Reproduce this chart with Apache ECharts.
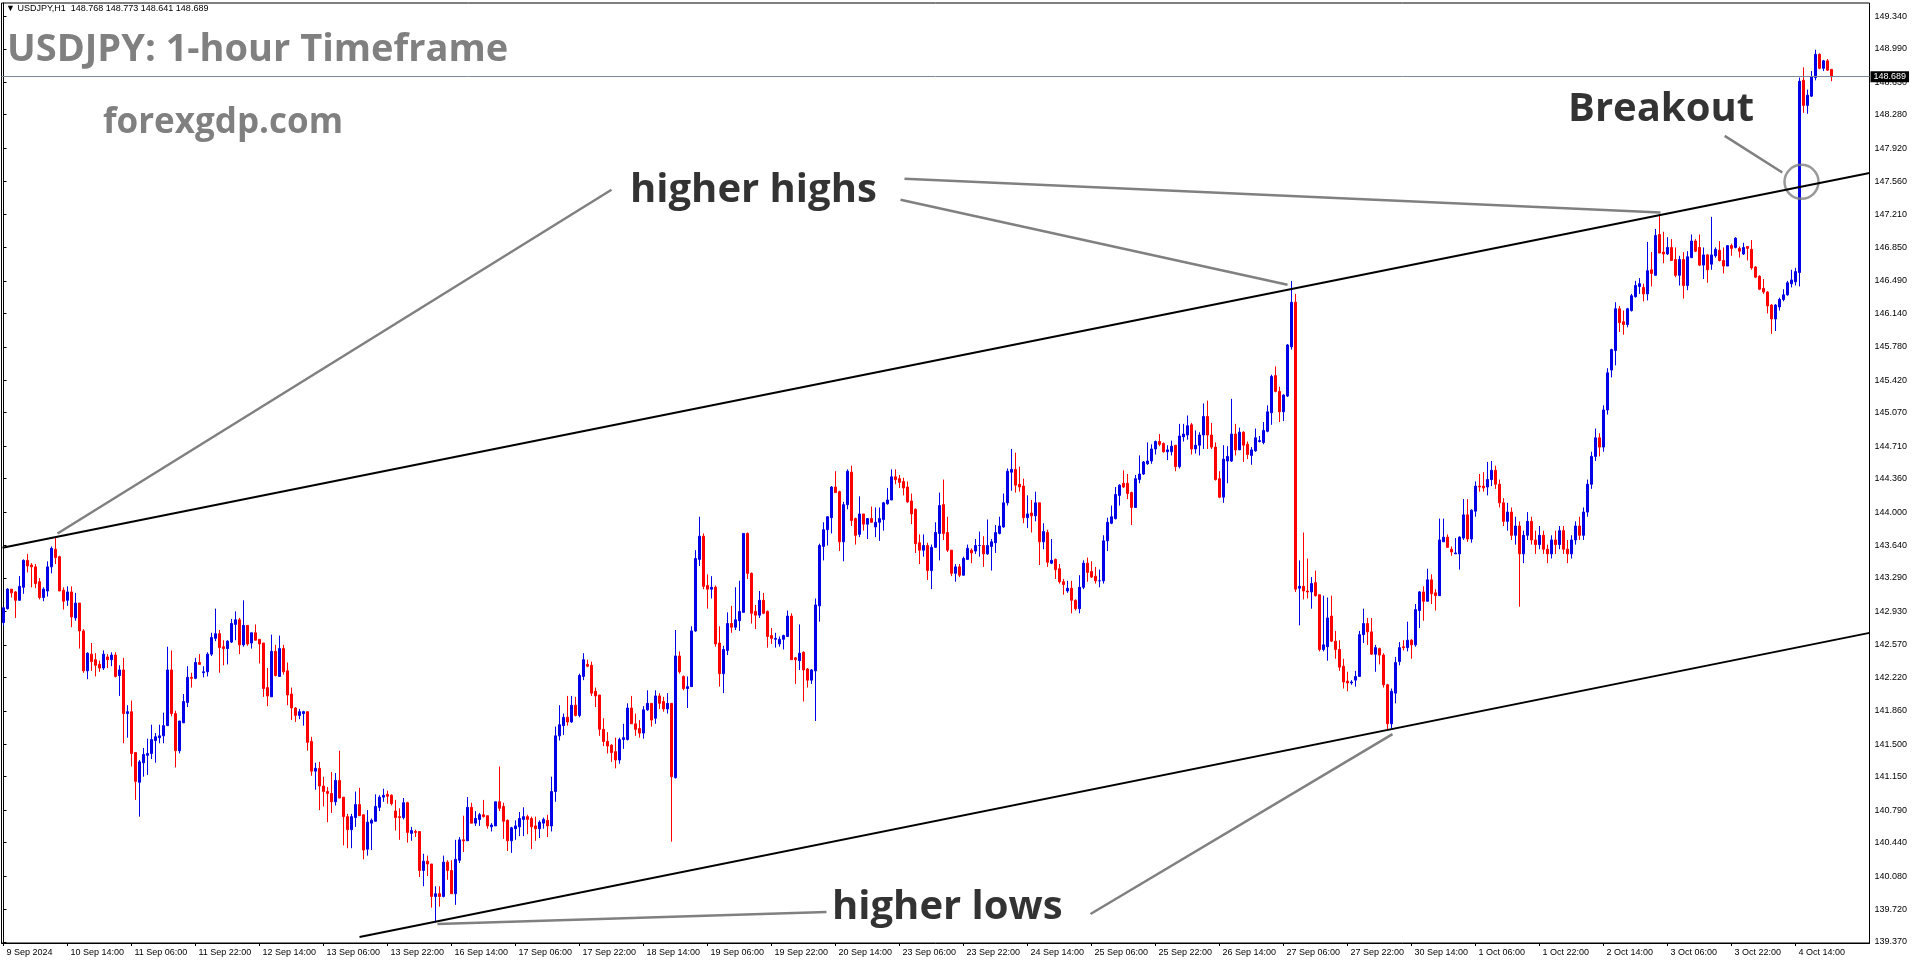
<!DOCTYPE html>
<html><head><meta charset="utf-8">
<script src="https://cdn.jsdelivr.net/npm/echarts@6/dist/echarts.min.js"></script>
<style>html,body{margin:0;padding:0;background:#fff;overflow:hidden}#c{width:1916px;height:964px}</style>
</head><body><div id="c"></div>
<script>
// OHLC rows: [open, close, low, high], one hourly bar each, 9 Sep 22:00 .. 4 Oct 23:00
const week1 = [
[142.81,142.97,142.78,142.98],[142.96,143.17,142.95,143.18],[143.17,143.13,143.08,143.17],[143.14,143.05,142.86,143.15],
[143.05,143.20,143.05,143.31],[143.19,143.48,143.12,143.49],[143.48,143.42,143.35,143.55],[143.43,143.41,143.19,143.45],
[143.41,143.23,143.18,143.44],[143.25,143.08,143.06,143.29],[143.08,143.17,143.04,143.19],[143.15,143.41,143.09,143.47],
[143.41,143.61,143.34,143.63],[143.60,143.51,143.44,143.73],[143.52,143.15,143.15,143.53],[143.16,143.04,142.95,143.19],
[143.05,143.14,142.99,143.20],[143.14,142.87,142.76,143.20],[142.86,143.02,142.83,143.13],[143.02,142.72,142.53,143.02],
[142.72,142.29,142.27,142.74],[142.29,142.48,142.20,142.49],[142.47,142.39,142.29,142.59],[142.41,142.35,142.23,142.48],
[142.36,142.32,142.28,142.40],[142.32,142.47,142.30,142.51],[142.44,142.41,142.32,142.47],[142.41,142.46,142.34,142.49],
[142.46,142.23,142.22,142.49],[142.24,142.30,142.02,142.35],[142.30,141.83,141.51,142.43],[141.83,141.85,141.57,141.92],
[141.85,141.40,141.26,141.97],[141.41,141.10,140.90,141.41],[141.09,141.31,140.72,141.33],[141.30,141.39,141.15,141.46],
[141.38,141.40,141.17,141.56],[141.40,141.55,141.34,141.71],[141.54,141.58,141.30,141.62],[141.57,141.59,141.51,141.71],
[141.59,141.70,141.51,141.84],[141.70,142.30,141.70,142.55],[142.30,141.83,141.80,142.51],[141.83,141.43,141.25,141.86],
[141.43,141.75,141.40,141.75],[141.73,141.96,141.73,142.04],[141.95,142.22,141.90,142.34],[142.22,142.21,142.11,142.27],
[142.21,142.38,142.20,142.43],[142.38,142.36,142.36,142.47],[142.27,142.28,142.22,142.34],[142.28,142.47,142.23,142.49],
[142.47,142.65,142.45,142.70],[142.64,142.69,142.61,142.96],[142.69,142.54,142.27,142.73],[142.55,142.53,142.35,142.62],
[142.53,142.61,142.36,142.62],[142.60,142.80,142.59,142.85],[142.79,142.84,142.62,142.93],[142.84,142.57,142.47,142.86],
[142.57,142.78,142.55,143.05],[142.78,142.58,142.56,142.78],[142.59,142.70,142.53,142.70],[142.70,142.62,142.62,142.79],
[142.63,142.58,142.37,142.63],[142.59,142.10,142.01,142.59],[142.11,142.02,141.91,142.32],[142.01,142.50,142.01,142.68],
[142.50,142.24,142.23,142.57],[142.23,142.53,142.23,142.67],[142.53,142.28,142.25,142.57],[142.29,142.03,141.92,142.38],
[142.04,141.89,141.76,142.11],[141.89,141.81,141.74,141.90],[141.81,141.85,141.77,141.88],[141.83,141.85,141.70,141.86],
[141.85,141.52,141.43,141.85],[141.53,141.21,141.16,141.58],[141.21,141.24,141.01,141.30],[141.24,141.05,140.79,141.31],
[141.05,140.99,140.83,141.15],[140.99,140.97,140.66,141.04],[140.97,140.88,140.76,141.20],[140.88,141.11,140.84,141.19],
[141.11,140.92,140.92,141.43],[140.93,140.72,140.41,140.93],[140.72,140.58,140.38,140.75],[140.58,140.72,140.38,140.75],
[140.71,140.85,140.61,140.99],[140.85,140.73,140.73,141.03],[140.74,140.36,140.26,140.74],[140.37,140.66,140.30,140.79],
[140.65,140.68,140.36,140.70],[140.67,140.83,140.67,140.96],[140.82,140.93,140.78,140.95],[140.93,140.95,140.88,141.02],
[140.96,140.94,140.86,141.00],[140.95,140.86,140.84,140.96]
];
const week2 = [
[140.78,140.71,140.57,140.90],[140.72,140.71,140.47,140.81],[140.71,140.87,140.69,140.92],[140.87,140.55,140.44,140.88],
[140.54,140.57,140.46,140.61],[140.56,140.55,140.50,140.58],[140.56,140.14,140.07,140.56],[140.14,140.24,139.97,140.32],
[140.24,140.21,140.08,140.30],[140.21,139.86,139.74,140.21],[139.86,139.89,139.58,139.97],[139.89,139.86,139.75,139.97],
[139.86,140.23,139.85,140.30],[140.23,140.14,140.04,140.25],[140.14,139.89,139.89,140.25],[139.89,140.26,139.77,140.47],
[140.25,140.47,140.22,140.50],[140.47,140.46,140.34,140.73],[140.46,140.82,140.46,140.93],[140.82,140.65,140.65,140.87],
[140.65,140.70,140.62,140.78],[140.69,140.74,140.62,140.76],[140.74,140.72,140.71,140.90],[140.73,140.62,140.59,140.73],
[140.61,140.63,140.56,140.65],[140.62,140.88,140.62,140.88],[140.88,140.81,140.78,141.26],[140.83,140.67,140.48,140.87],
[140.68,140.46,140.35,140.69],[140.46,140.60,140.33,140.61],[140.59,140.62,140.47,140.68],[140.61,140.70,140.51,140.77],
[140.69,140.72,140.51,140.82],[140.72,140.69,140.53,140.74],[140.70,140.61,140.37,140.72],[140.62,140.59,140.46,140.72],
[140.59,140.66,140.49,140.68],[140.65,140.69,140.59,140.71],[140.68,140.62,140.50,140.74],[140.62,140.99,140.56,141.15],
[140.99,141.59,140.88,141.69],[141.59,141.71,141.54,141.92],[141.70,141.79,141.60,141.83],[141.79,141.74,141.70,142.02],
[141.74,141.92,141.73,142.02],[141.92,141.81,141.80,142.01],[141.81,142.24,141.79,142.26],[142.23,142.41,142.19,142.48],
[142.36,142.34,142.33,142.41],[142.35,142.05,142.02,142.39],[142.07,142.02,141.90,142.11],[142.03,141.66,141.59,142.03],
[141.66,141.53,141.48,141.78],[141.53,141.48,141.40,141.63],[141.49,141.41,141.31,141.50],[141.42,141.33,141.24,141.57],
[141.33,141.55,141.29,141.57],[141.55,141.57,141.45,141.72],[141.55,141.89,141.54,141.94],[141.89,141.72,141.72,142.02],
[141.72,141.66,141.59,141.83],[141.67,141.62,141.57,141.76],[141.62,141.87,141.56,141.91],[141.87,141.94,141.86,142.08],
[141.94,141.76,141.69,141.94],[141.78,142.02,141.72,142.08],[142.02,141.94,141.88,142.05],[141.96,141.88,141.85,142.01],
[141.88,141.94,141.83,142.05],[141.94,141.15,140.45,141.94],[141.14,142.45,141.13,142.73],[142.45,142.28,142.26,142.50],
[142.23,142.10,142.08,142.24],[142.10,142.12,141.89,142.23],[142.12,142.72,142.12,142.77],[142.72,143.50,142.71,143.59],
[143.49,143.74,143.42,143.95],[143.74,143.20,143.17,143.77],[143.21,143.17,142.96,143.33],[143.17,143.19,143.07,143.31],
[143.19,142.58,142.55,143.21],[142.59,142.26,142.12,142.77],[142.26,142.52,142.05,142.56],[142.51,142.80,142.46,142.92],
[142.80,142.76,142.70,142.99],[142.76,142.84,142.73,143.19],[142.83,142.93,142.72,143.26],[142.92,143.77,142.92,143.77],
[143.77,143.34,143.28,143.78],[143.34,142.91,142.80,143.35],[142.93,142.89,142.74,143.00],[142.89,143.05,142.86,143.15],
[143.05,142.91,142.90,143.13],[142.93,142.66,142.54,142.94],[142.67,142.64,142.58,142.75],[142.63,142.64,142.54,142.70],
[142.58,142.63,142.55,142.66],[142.63,142.67,142.52,142.68],[142.66,142.88,142.66,142.94],[142.88,142.41,142.41,142.91],
[142.43,142.41,142.15,142.44],[142.40,142.48,142.30,142.79],[142.49,142.30,141.96,142.50],[142.31,142.19,142.11,142.32],
[142.19,142.30,142.15,142.31],[142.29,143.00,141.75,143.07],[142.99,143.64,142.82,143.66],[143.63,143.81,143.48,143.89],
[143.81,143.95,143.64,143.95],[143.94,144.27,143.77,144.28],[144.27,144.21,144.21,144.44],[144.22,143.68,143.58,144.23],
[143.68,144.08,143.47,144.11],[144.08,144.44,144.03,144.46],[144.43,143.91,143.85,144.50],[143.93,143.75,143.65,143.94],
[143.76,143.98,143.73,144.17],[143.98,143.87,143.80,143.98],[143.87,143.93,143.71,143.93],[143.93,143.89,143.89,144.06]
];
const week3 = [
[143.84,143.89,143.73,144.05],[143.89,143.93,143.69,144.05],[143.92,144.10,143.80,144.11],[144.09,144.13,144.08,144.26],
[144.13,144.38,144.13,144.46],[144.38,144.35,144.30,144.46],[144.36,144.32,144.26,144.40],[144.33,144.26,144.18,144.37],
[144.27,144.11,144.10,144.33],[144.12,143.98,143.87,144.20],[144.03,143.66,143.56,144.04],[143.67,143.59,143.44,143.76],
[143.59,143.64,143.52,143.76],[143.64,143.37,143.27,143.67],[143.37,143.62,143.17,143.65],[143.62,143.78,143.62,143.89],
[143.77,144.07,143.48,144.21],[144.08,143.77,143.70,144.35],[143.78,143.59,143.57,143.95],[143.59,143.34,143.31,143.59],
[143.34,143.41,143.25,143.44],[143.41,143.32,143.30,143.44],[143.32,143.50,143.32,143.52],[143.49,143.61,143.49,143.65],
[143.59,143.56,143.45,143.61],[143.58,143.64,143.55,143.71],[143.64,143.64,143.52,143.79],[143.64,143.55,143.41,143.74],
[143.55,143.64,143.54,143.92],[143.63,143.68,143.37,143.71],[143.67,143.78,143.56,143.86],[143.77,143.85,143.76,143.95],
[143.84,144.10,143.83,144.20],[144.10,144.44,144.07,144.47],[144.43,144.46,144.23,144.68],[144.46,144.29,144.21,144.64],
[144.30,144.27,144.22,144.49],[144.28,143.94,143.88,144.36],[143.94,143.98,143.83,144.18],[143.99,143.96,143.78,144.13],
[143.96,144.10,143.90,144.22],[144.10,143.68,143.43,144.10],[143.68,143.79,143.60,143.88],[143.78,143.46,143.41,143.81],
[143.45,143.48,143.44,143.71],[143.49,143.38,143.28,143.50],[143.39,143.25,143.23,143.44],[143.25,143.22,143.11,143.28],
[143.15,143.18,143.13,143.26],[143.18,143.05,142.91,143.26],[143.05,142.96,142.94,143.06],[142.96,143.19,142.91,143.32],
[143.19,143.45,143.17,143.48],[143.45,143.35,143.25,143.51],[143.36,143.30,143.29,143.47],[143.31,143.26,143.23,143.41],
[143.26,143.26,143.19,143.38],[143.26,143.69,143.23,143.75],[143.69,143.89,143.58,143.94],[143.88,143.95,143.87,144.07],
[143.93,144.19,143.92,144.27],[144.18,144.29,144.07,144.30],[144.31,144.27,144.26,144.45],[144.31,144.20,144.14,144.41],
[144.21,144.05,143.86,144.22],[144.05,144.36,144.05,144.40],[144.35,144.41,144.31,144.61],[144.41,144.54,144.40,144.55],
[144.52,144.55,144.51,144.75],[144.55,144.68,144.52,144.73],[144.68,144.76,144.62,144.77],[144.76,144.73,144.71,144.84],
[144.74,144.65,144.64,144.75],[144.65,144.67,144.56,144.72],[144.65,144.71,144.61,144.77],[144.72,144.49,144.44,144.72],
[144.49,144.82,144.47,144.95],[144.81,144.84,144.76,144.95],[144.83,144.93,144.78,145.04],[144.94,144.68,144.62,144.96],
[144.68,144.72,144.63,144.88],[144.72,144.83,144.61,144.86],[144.83,145.03,144.68,145.17],[145.03,144.83,144.68,145.20],
[144.83,144.70,144.68,144.96],[144.70,144.35,144.34,144.75],[144.36,144.16,144.15,144.44],[144.16,144.57,144.10,144.72],
[144.55,144.60,144.31,144.71],[144.55,144.84,144.54,145.22],[144.84,144.67,144.61,144.95],[144.67,144.86,144.67,144.91],
[144.86,144.72,144.54,144.87],[144.73,144.62,144.57,144.76],[144.61,144.67,144.51,144.70],[144.66,144.80,144.65,144.90],
[144.76,144.77,144.75,144.82],[144.75,144.88,144.73,144.97],[144.87,145.08,144.86,145.15],[145.07,145.46,144.94,145.48],
[145.47,145.30,145.29,145.57],[145.30,145.08,144.97,145.35],[145.08,145.26,144.98,145.27],[145.25,145.80,145.24,145.81],
[145.78,146.26,145.75,146.49],[146.26,143.17,143.14,146.35],[143.18,143.20,142.78,143.48],[143.20,143.15,143.06,143.78],
[143.15,143.14,143.07,143.50],[143.14,143.23,142.96,143.30],[143.24,143.10,143.09,143.37],[143.11,142.52,142.50,143.11],
[142.52,142.57,142.50,143.10],[142.55,142.86,142.40,143.08],[142.88,142.61,142.60,143.10],[142.61,142.52,142.42,142.72],
[142.52,142.33,142.29,142.62],[142.34,142.17,142.10,142.42],[142.18,142.16,142.07,142.28],[142.16,142.17,142.14,142.19]
];
const week4 = [
[142.19,142.23,142.12,142.29],[142.23,142.68,142.23,142.72],[142.68,142.80,142.59,142.96],[142.80,142.71,142.57,142.86],
[142.71,142.47,142.46,142.86],[142.47,142.54,142.28,142.57],[142.53,142.46,142.36,142.54],[142.46,142.14,142.11,142.48],
[142.14,141.72,141.66,142.15],[141.72,142.07,141.67,142.10],[142.05,142.38,141.94,142.44],[142.39,142.54,142.35,142.60],
[142.55,142.54,142.51,142.62],[142.54,142.62,142.50,142.82],[142.62,142.57,142.42,142.63],[142.57,142.95,142.55,143.01],
[142.94,143.14,142.75,143.15],[143.14,143.04,142.83,143.20],[143.04,143.27,143.04,143.39],[143.27,143.12,143.01,143.33],
[143.13,143.10,142.94,143.17],[143.10,143.70,143.10,143.93],[143.68,143.73,143.68,143.93],[143.73,143.62,143.62,143.76],
[143.60,143.57,143.53,143.63],[143.55,143.56,143.55,143.72],[143.55,143.73,143.38,143.74],[143.72,143.97,143.70,144.14],
[143.97,143.71,143.68,144.14],[143.71,144.02,143.67,144.03],[144.01,144.28,143.95,144.33],[144.28,144.27,144.22,144.41],
[144.28,144.26,144.22,144.43],[144.27,144.35,144.18,144.54],[144.35,144.45,144.28,144.55],[144.45,144.30,144.25,144.50],
[144.30,144.10,144.05,144.35],[144.10,143.90,143.85,144.15],[143.90,144.00,143.80,144.10],[144.00,143.75,143.70,144.05],
[143.75,143.85,143.65,143.95],[143.85,143.55,142.98,143.90],[143.55,143.75,143.45,143.80],[143.75,143.90,143.70,144.00],
[143.90,143.70,143.65,143.95],[143.70,143.65,143.55,143.80],[143.65,143.75,143.60,143.85],[143.75,143.60,143.55,143.80],
[143.60,143.55,143.45,143.65],[143.55,143.70,143.50,143.75],[143.70,143.65,143.55,143.80],[143.65,143.80,143.60,143.85],
[143.80,143.60,143.55,143.85],[143.60,143.55,143.45,143.70],[143.55,143.70,143.50,143.75],[143.70,143.85,143.65,143.90],
[143.85,143.75,143.70,143.95],[143.75,144.00,143.70,144.05],[144.00,144.30,143.95,144.35],[144.30,144.60,144.25,144.65],
[144.60,144.80,144.55,144.90],[144.80,144.70,144.60,144.85],[144.70,145.10,144.65,145.15],[145.10,145.50,145.05,145.55],
[145.53,145.75,145.45,145.76],[145.74,146.19,145.58,146.26],[146.19,146.04,145.94,146.22],[146.05,146.02,145.91,146.17],
[146.02,146.19,145.99,146.20],[146.17,146.33,146.16,146.35],[146.32,146.44,146.31,146.49],[146.43,146.46,146.35,146.52],
[146.42,146.35,146.27,146.46],[146.35,146.60,146.28,146.91],[146.61,146.57,146.43,146.80],[146.55,146.98,146.55,147.05],
[146.99,146.79,146.79,147.21],[146.80,146.78,146.68,147.02],[146.78,146.85,146.77,146.96],[146.85,146.71,146.71,146.94],
[146.72,146.55,146.53,146.85],[146.55,146.72,146.44,146.76],[146.72,146.44,146.30,146.80],[146.44,146.75,146.39,146.81],
[146.74,146.92,146.74,146.99],[146.92,146.81,146.80,146.94],[146.85,146.66,146.65,146.99],[146.66,146.77,146.51,146.85],
[146.77,146.61,146.47,146.78],[146.67,146.77,146.61,147.18],[146.76,146.83,146.74,146.85],[146.82,146.71,146.70,146.92],
[146.71,146.65,146.57,146.85],[146.65,146.87,146.65,146.87],[146.87,146.84,146.76,146.89],[146.85,146.95,146.84,146.96],
[146.84,146.81,146.74,146.86],[146.78,146.85,146.77,146.90],[146.86,146.84,146.71,146.86],[146.83,146.63,146.61,146.93],
[146.64,146.53,146.52,146.65],[146.54,146.40,146.39,146.55],[146.41,146.37,146.35,146.51],[146.37,146.22,146.14,146.38],
[146.23,146.08,145.92,146.24],[146.08,146.23,145.95,146.24],[146.21,146.29,146.17,146.31],[146.29,146.34,146.27,146.40],
[146.34,146.47,146.33,146.49],[146.46,146.50,146.42,146.61],[146.48,146.59,146.44,146.63],[146.58,148.64,146.43,148.68],
[148.65,148.38,148.30,148.79],[148.38,148.49,148.29,148.55],[148.48,148.69,148.47,148.75],[148.68,148.93,148.65,148.98],
[148.93,148.78,148.77,148.94],[148.78,148.86,148.75,148.87],[148.86,148.76,148.75,148.88],[148.768,148.689,148.641,148.773]
];

const xTickLabels = ['9 Sep 2024','10 Sep 14:00','11 Sep 06:00','11 Sep 22:00','12 Sep 14:00','13 Sep 06:00','13 Sep 22:00',
  '16 Sep 14:00','17 Sep 06:00','17 Sep 22:00','18 Sep 14:00','19 Sep 06:00','19 Sep 22:00','20 Sep 14:00','23 Sep 06:00',
  '23 Sep 22:00','24 Sep 14:00','25 Sep 06:00','25 Sep 22:00','26 Sep 14:00','27 Sep 06:00','27 Sep 22:00','30 Sep 14:00',
  '1 Oct 06:00','1 Oct 22:00','2 Oct 14:00','3 Oct 06:00','3 Oct 22:00','4 Oct 14:00'];
const xTickEvery = 16;      // bars between time labels
const emptyBarsRight = 9;   // chart shift space after the last bar
const yTickValues = [149.340,148.990,148.630,148.280,147.920,147.560,147.210,146.850,146.490,146.140,145.780,145.420,
  145.070,144.710,144.360,144.000,143.640,143.290,142.930,142.570,142.220,141.860,141.500,141.150,140.790,140.440,
  140.080,139.720,139.370];
const yMin = 139.359, yMax = 149.483;
const currentPrice = 148.689;

// annotations in [bar index, price]
const upperTrend = [[-0.25,143.617],[466.5,147.652]];
const lowerTrend = [[89,139.424],[466.5,142.699]];
const pointerLines = [
  [[13.5,143.77],[152,147.471]],
  [[224.25,147.363],[321,146.449]],
  [[225.25,147.589],[414.25,147.227]],
  [[108.5,139.564],[205.75,139.693]],
  [[271.75,139.671],[347.25,141.608]],
  [[430.3,148.052],[444.7,147.657]]
];
const breakoutCircle = [[449.5,147.557]];
const annotationTexts = [
  {name:'higher highs', value:[156.5,147.465]},
  {name:'higher lows', value:[207,139.741]},
  {name:'Breakout', value:[391,148.337]}
];

const bars = week1.concat(week2, week3, week4);
const nCat = bars.length + emptyBarsRight;
const cats = Array.from({length:nCat}, (_, i) => String(i));
const isTick = i => i % xTickEvery === 0 && (i / xTickEvery) < xTickLabels.length;

const chart = echarts.init(document.getElementById('c'), null, {renderer:'canvas'});
const AX = 'Liberation Sans';
const series = [
  {
    type:'candlestick', data:bars, barWidth:2, animation:false, silent:true,
    itemStyle:{color:'#0000e6', color0:'#ff0000', borderColor:'#0000e6', borderColor0:'#ff0000', borderWidth:1},
    markLine:{
      symbol:['none','none'], silent:true, animation:false,
      lineStyle:{color:'#7a8899', width:1, type:'solid'},
      label:{show:true, position:'end', distance:1, formatter:currentPrice.toFixed(3), color:'#fff', backgroundColor:'#000',
        fontFamily:AX, fontSize:9, padding:[1,3,1,3]},
      data:[{yAxis:currentPrice}]
    }
  },
  {type:'line', xAxisIndex:1, data:upperTrend, symbol:'none', silent:true, animation:false, lineStyle:{color:'#000', width:2}},
  {type:'line', xAxisIndex:1, data:lowerTrend, symbol:'none', silent:true, animation:false, lineStyle:{color:'#000', width:2}}
];
pointerLines.forEach(seg => series.push({type:'line', xAxisIndex:1, data:seg, symbol:'none', silent:true, animation:false,
  lineStyle:{color:'#808080', width:2.5}}));
series.push({type:'scatter', xAxisIndex:1, data:breakoutCircle, symbol:'circle', symbolSize:34, silent:true, animation:false,
  itemStyle:{color:'rgba(0,0,0,0)', borderColor:'#808080', borderWidth:2.5}});
series.push({type:'scatter', xAxisIndex:1, data:annotationTexts, symbolSize:1, silent:true, animation:false,
  itemStyle:{color:'rgba(0,0,0,0)'},
  label:{show:true, position:'right', distance:0, formatter:p => p.name, fontFamily:'Open Sans', fontWeight:'bold',
    fontSize:40, color:'#000'}});

chart.setOption({
  animation:false,
  backgroundColor:'#fff',
  grid:{left:1.5, right:46.5, top:3, bottom:21, show:true, borderColor:'#000', borderWidth:1, backgroundColor:'#fff'},
  xAxis:[
    {type:'category', data:cats, boundaryGap:true,
     axisLine:{lineStyle:{color:'#000', width:1}},
     axisTick:{show:true, interval:(i) => isTick(i), alignWithLabel:true, length:3, lineStyle:{color:'#000'}},
     axisLabel:{interval:(i) => isTick(i), formatter:(v, i) => xTickLabels[i / xTickEvery],
       align:'left', padding:[0,0,0,3], margin:5, fontFamily:AX, fontSize:9, color:'#000'},
     splitLine:{show:false}},
    {type:'value', min:-0.5, max:nCat - 0.5, show:false}
  ],
  yAxis:{type:'value', position:'right', min:yMin, max:yMax, scale:true,
    axisLine:{show:true, lineStyle:{color:'#000', width:1}},
    axisTick:{show:true, length:3, customValues:yTickValues, lineStyle:{color:'#000'}},
    axisLabel:{customValues:yTickValues, formatter:v => v.toFixed(3), margin:5, fontFamily:AX, fontSize:9, color:'#000'},
    splitLine:{show:false}},
  graphic:[
    {type:'text', left:6, top:4, style:{text:'\u25BC USDJPY,H1  148.768 148.773 148.641 148.689', font:'9px "Liberation Sans"', fill:'#000'}},
    {type:'text', left:7, top:31, style:{text:'USDJPY: 1-hour Timeframe', font:'bold 38px "Open Sans"', fill:'#808080'}},
    {type:'text', left:103, top:106, style:{text:'forexgdp.com', font:'bold 35px "Open Sans"', fill:'#808080'}}
  ],
  series:series
});
</script></body></html>
